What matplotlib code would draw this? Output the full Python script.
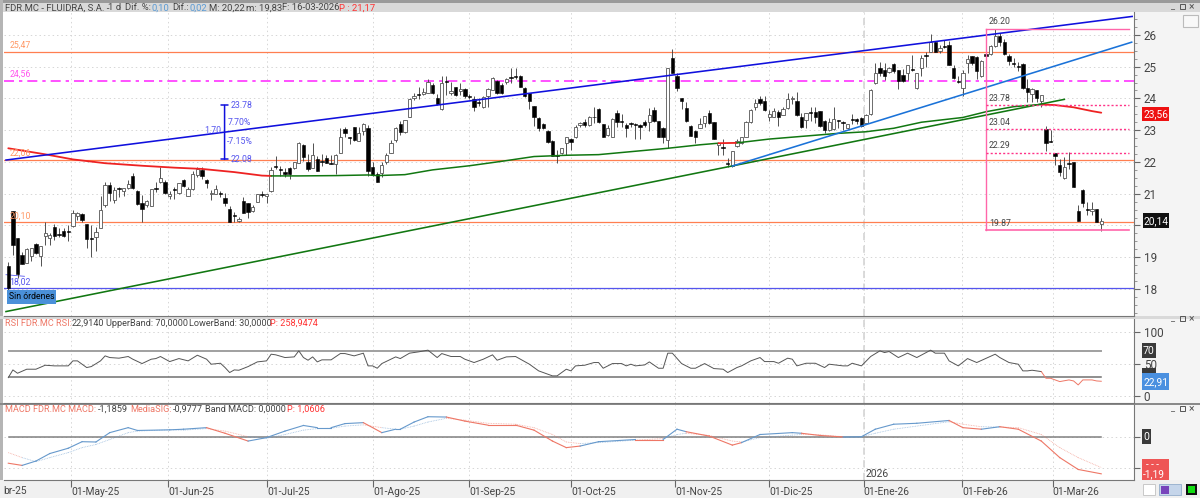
import numpy as np
from matplotlib import pyplot as plt
from matplotlib.patches import Rectangle

W, H = 1200, 498
plt.rcParams["font.family"] = ["Roboto", "DejaVu Sans"]

# candles
opens = [18.72, 20.46, 19.60, 19.07, 18.83, 19.05, 19.42, 19.05, 19.68, 19.59, 19.96, 19.74, 19.83, 19.83, 19.97, 20.31, 20.36, 20.04, 19.59, 19.65,
         19.91, 20.65, 21.28, 20.80, 21.17, 21.10, 21.17, 21.57, 21.09, 20.72, 20.65, 20.62, 21.17, 21.38, 21.38, 20.93, 21.14, 21.01, 21.43, 20.94,
         21.15, 21.59, 21.75, 21.43, 20.98, 20.98, 21.01, 20.88, 20.51, 20.32, 20.13, 20.77, 20.70, 20.46, 20.75, 20.99, 20.93, 21.07, 21.87, 21.78,
         21.67, 21.82, 21.80, 21.98, 22.54, 22.01, 21.80, 22.09, 22.04, 22.12, 21.96, 21.93, 22.29, 23.03, 22.77, 23.09, 22.67, 22.96, 23.08, 21.83,
         21.62, 21.64, 22.01, 22.29, 22.69, 23.20, 22.93, 23.43, 24.00, 24.13, 24.13, 24.16, 24.42, 24.00, 23.66, 24.55, 24.18, 24.37, 24.24, 24.29,
         24.08, 23.97, 23.89, 23.72, 24.06, 24.27, 24.55, 24.42, 24.53, 24.66, 24.69, 24.72, 24.32, 24.16, 23.76, 23.38, 23.19, 22.96, 22.67, 22.23,
         22.27, 22.59, 22.72, 22.77, 23.17, 23.27, 23.17, 23.43, 23.67, 23.19, 22.85, 22.80, 23.55, 23.29, 23.15, 23.21, 23.19, 23.17, 23.25, 23.27,
         23.64, 23.29, 23.06, 22.69, 25.27, 24.71, 24.00, 23.69, 23.14, 22.96, 23.06, 23.22, 23.55, 23.27, 22.52, 22.46, 21.98, 21.87, 22.50, 22.59,
         22.80, 23.25, 23.74, 23.98, 23.92, 23.40, 23.43, 23.58, 23.49, 23.69, 23.97, 23.91, 23.41, 23.32, 23.57, 23.58, 23.60, 23.30, 22.99, 23.03,
         23.31, 23.26, 23.07, 23.36, 23.34, 23.38, 23.24, 23.51, 24.48, 24.97, 24.88, 24.82, 25.07, 24.90, 24.74, 24.81, 24.92, 24.34, 24.97, 25.36,
         25.47, 25.78, 25.49, 25.65, 25.68, 24.95, 24.56, 24.32, 25.11, 25.32, 25.29, 24.69, 25.39, 25.39, 25.65, 25.97, 25.76, 25.35, 25.11, 25.03,
         25.09, 24.32, 24.13, 24.25, 23.92, 23.03, 22.67, 22.27, 21.91, 21.49, 21.96, 21.99, 20.47, 21.12, 20.51, 20.46, 20.51, 20.04]
highs = [18.86, 20.46, 19.60, 19.18, 19.28, 19.28, 19.44, 19.36, 20.12, 19.75, 20.04, 19.91, 19.91, 20.02, 20.49, 20.43, 20.38, 20.04, 20.02, 19.96,
         20.93, 21.38, 21.38, 21.22, 21.20, 21.17, 21.43, 21.66, 21.12, 20.96, 20.80, 21.16, 21.38, 21.83, 21.43, 21.10, 21.22, 21.33, 21.46, 21.22,
         21.70, 21.85, 21.83, 21.45, 21.12, 21.28, 21.10, 21.01, 20.61, 20.43, 20.28, 20.91, 20.70, 20.64, 20.98, 21.10, 20.98, 21.83, 22.19, 21.87,
         21.80, 21.85, 22.01, 22.64, 22.56, 22.24, 22.59, 22.19, 22.25, 22.22, 22.22, 22.24, 23.06, 23.11, 22.80, 23.11, 23.11, 23.22, 23.16, 22.01,
         21.67, 22.01, 22.29, 22.69, 23.11, 23.29, 23.32, 24.00, 24.18, 24.35, 24.32, 24.60, 24.50, 24.14, 24.69, 24.69, 24.53, 24.37, 24.50, 24.32,
         24.14, 24.06, 24.00, 24.08, 24.32, 24.66, 24.58, 24.48, 24.64, 24.95, 24.95, 24.74, 24.37, 24.18, 23.76, 23.40, 23.22, 23.01, 22.69, 22.36,
         22.45, 22.78, 22.75, 23.17, 23.27, 23.34, 23.45, 23.74, 23.69, 23.19, 23.17, 23.37, 23.62, 23.50, 23.22, 23.27, 23.24, 23.20, 23.32, 23.69,
         23.72, 23.29, 23.10, 24.97, 25.55, 24.79, 24.00, 23.90, 23.17, 23.01, 23.38, 23.45, 23.64, 23.27, 22.60, 22.72, 22.12, 22.35, 22.72, 22.80,
         23.29, 23.66, 23.97, 24.08, 24.08, 23.64, 23.71, 23.64, 23.74, 24.16, 24.06, 24.19, 23.53, 23.55, 23.74, 23.74, 23.60, 23.32, 23.38, 23.74,
         23.32, 23.28, 23.20, 23.51, 23.37, 23.41, 23.51, 24.30, 25.11, 25.14, 25.11, 25.00, 25.11, 24.90, 24.92, 25.05, 25.37, 24.79, 25.37, 25.47,
         26.02, 25.82, 25.68, 25.84, 25.82, 25.05, 24.71, 24.90, 25.37, 25.34, 25.32, 25.21, 25.42, 25.68, 26.20, 26.07, 25.86, 25.39, 25.26, 25.16,
         25.11, 24.60, 24.32, 24.27, 24.11, 23.13, 22.99, 22.29, 22.08, 22.15, 22.30, 22.01, 20.65, 21.14, 20.75, 20.73, 20.51, 20.22]
lows = [17.65, 19.07, 18.34, 18.79, 18.81, 18.89, 19.10, 18.72, 19.38, 19.38, 19.54, 19.65, 19.63, 19.52, 19.96, 20.17, 20.12, 19.28, 19.02, 19.20,
        19.91, 20.59, 20.78, 20.72, 20.91, 20.93, 21.14, 21.14, 20.65, 20.10, 20.57, 20.60, 21.06, 21.35, 20.99, 20.82, 20.82, 20.99, 21.22, 20.94,
        21.12, 21.54, 21.45, 21.17, 20.80, 20.98, 20.91, 20.62, 20.10, 20.12, 20.10, 20.38, 20.22, 20.43, 20.75, 20.91, 20.70, 21.06, 21.77, 21.56,
        21.54, 21.46, 21.77, 21.96, 22.03, 21.70, 21.80, 21.70, 21.87, 21.96, 21.93, 21.62, 22.27, 22.78, 22.57, 22.67, 22.66, 22.85, 21.56, 21.56,
        21.36, 21.54, 21.94, 22.27, 22.64, 22.85, 22.92, 23.41, 23.95, 23.97, 24.11, 24.16, 24.14, 23.80, 23.64, 24.11, 24.11, 24.09, 24.11, 24.00,
        23.97, 23.59, 23.76, 23.69, 23.72, 24.25, 24.14, 24.14, 24.45, 24.48, 24.60, 24.35, 24.04, 23.66, 23.13, 22.96, 23.04, 22.61, 22.19, 21.96,
        22.24, 22.22, 22.38, 22.75, 23.11, 23.11, 23.13, 23.24, 23.24, 22.78, 22.82, 22.78, 23.11, 23.11, 22.80, 23.11, 22.71, 22.71, 23.11, 22.96,
        23.27, 22.80, 22.59, 22.43, 24.79, 24.22, 23.66, 23.27, 22.82, 22.59, 23.06, 23.09, 23.20, 22.72, 22.22, 22.22, 21.85, 21.85, 22.48, 22.57,
        22.78, 23.22, 23.62, 23.80, 23.61, 23.29, 23.41, 23.14, 23.47, 23.66, 23.83, 23.45, 23.06, 23.06, 23.30, 23.24, 23.11, 22.90, 22.97, 23.00,
        23.06, 23.00, 23.05, 23.20, 23.20, 23.11, 23.22, 23.49, 24.46, 24.69, 24.58, 24.79, 24.79, 24.30, 24.53, 24.58, 24.85, 24.30, 24.69, 25.00,
        25.47, 25.45, 25.42, 25.58, 25.05, 24.60, 24.48, 24.08, 24.79, 25.05, 24.60, 24.67, 25.30, 25.37, 25.63, 25.65, 25.37, 25.05, 25.00, 24.85,
        24.30, 23.90, 23.90, 23.90, 23.72, 22.33, 22.64, 21.91, 21.57, 21.47, 21.77, 21.20, 20.15, 20.57, 20.33, 20.33, 20.10, 19.83]
closes = [18.02, 19.39, 18.46, 18.79, 19.26, 19.28, 19.12, 19.36, 19.75, 19.69, 19.67, 19.70, 19.67, 19.79, 20.38, 20.40, 20.17, 19.56, 19.56, 19.81,
          20.49, 21.28, 21.01, 21.12, 21.14, 21.17, 21.31, 21.17, 20.68, 20.52, 20.77, 21.14, 21.14, 21.49, 21.01, 20.99, 21.11, 21.33, 21.24, 21.14,
          21.62, 21.77, 21.57, 21.35, 21.03, 21.14, 20.98, 20.70, 20.12, 20.29, 20.20, 20.40, 20.43, 20.59, 20.98, 20.96, 20.98, 21.75, 21.83, 21.75,
          21.63, 21.62, 22.01, 22.61, 22.14, 21.77, 22.23, 21.73, 22.01, 21.98, 21.93, 22.22, 22.77, 22.90, 22.74, 22.69, 22.92, 23.19, 21.70, 21.59,
          21.38, 21.91, 22.22, 22.61, 23.08, 22.93, 23.32, 23.97, 24.06, 24.10, 24.19, 24.53, 24.16, 23.82, 24.50, 24.52, 24.24, 24.11, 24.30, 24.06,
          24.04, 23.72, 23.85, 24.04, 24.29, 24.63, 24.16, 24.16, 24.61, 24.63, 24.66, 24.37, 24.08, 23.92, 23.43, 23.06, 23.06, 22.64, 22.20, 22.20,
          22.45, 22.78, 22.64, 23.09, 23.24, 23.15, 23.41, 23.40, 23.27, 22.80, 23.06, 23.35, 23.27, 23.26, 23.08, 23.18, 23.15, 23.11, 23.15, 23.48,
          23.29, 22.80, 22.80, 24.97, 24.81, 24.34, 23.91, 23.29, 22.83, 22.77, 23.20, 23.45, 23.22, 22.72, 22.60, 22.43, 21.95, 22.35, 22.66, 22.78,
          23.27, 23.62, 23.85, 23.85, 23.62, 23.50, 23.61, 23.41, 23.67, 23.97, 24.02, 23.47, 23.11, 23.53, 23.53, 23.43, 23.14, 22.99, 23.27, 23.35,
          23.28, 23.22, 23.18, 23.33, 23.30, 23.14, 23.49, 24.27, 24.81, 24.81, 24.72, 24.97, 24.85, 24.56, 24.56, 25.05, 24.89, 24.79, 25.26, 25.33,
          25.76, 25.47, 25.58, 25.62, 25.05, 24.63, 24.53, 24.79, 25.23, 25.13, 24.87, 25.19, 25.32, 25.65, 25.97, 25.79, 25.39, 25.19, 25.08, 25.00,
          24.32, 24.21, 24.29, 24.00, 24.10, 22.61, 22.64, 22.20, 21.67, 21.83, 21.93, 21.22, 20.15, 20.70, 20.48, 20.51, 20.12, 20.14]

ma_idx = [0, 8, 14, 21, 29, 36, 42, 49, 55, 57, 63, 71, 78, 80, 86, 92, 100, 107, 114, 121, 128, 143, 150, 154, 158, 165, 180, 186, 192, 198, 207, 212, 218, 224, 227, 231, 235, 237]
ma_val = [22.43, 22.24, 22.08, 21.96, 21.88, 21.82, 21.78, 21.68, 21.57, 21.56, 21.56, 21.57, 21.59, 21.57, 21.60, 21.75, 21.88, 22.02, 22.17, 22.21, 22.23, 22.43, 22.54, 22.59, 22.60, 22.72, 22.90, 22.95, 23.06, 23.25, 23.40, 23.58, 23.74, 23.81, 23.79, 23.72, 23.60, 23.55]

rsi_idx = [0, 1, 2, 4, 6, 8, 10, 13, 14, 15, 17, 18, 20, 21, 22, 24, 26, 27, 29, 31, 32, 33, 35, 37, 39, 41, 43, 44, 46, 47, 48, 49, 50, 52, 54, 56, 57, 58, 60, 62, 63, 64, 65, 66, 67, 68, 70, 72, 73, 75, 77, 78, 79, 80, 81, 84,
           85, 87, 89, 91, 93, 94, 96, 98, 99, 101, 103, 105, 106, 108, 110, 113, 115, 116, 118, 119, 121, 122, 123, 125, 127, 128, 129, 131, 133, 134, 135, 136, 138, 139, 141, 142, 143, 144, 146, 148, 149, 151, 153, 155, 156, 158, 159, 161, 163, 164, 166, 167, 169, 170, 171,
           173, 175, 177, 178, 181, 182, 183, 185, 187, 189, 190, 191, 193, 195, 197, 200, 201, 203, 204, 206, 208, 210, 214, 215, 217, 219, 220, 221, 222, 224, 225, 226, 228, 230, 231, 232, 233, 235, 236, 237]
rsi_val = [28.6, 40.6, 35.4, 41.7, 41.7, 47.9, 46.9, 46.9, 54.7, 54.7, 44.3, 45.8, 54.7, 62.5, 59.9, 58.9, 61.5, 57.3, 50.5, 57.3, 58.3, 61.5, 53.6, 58.3, 54.7, 63.5, 57.3, 49.5, 51.0, 44.3, 36.5, 40.6, 40.1, 45.8, 53.1, 54.7, 65.1, 64.1, 59.9, 60.9, 70.3, 59.9, 55.7, 60.9, 53.1, 56.3, 56.3, 66.1, 66.1, 62.5, 66.7, 46.9, 46.9, 43.2, 50.5, 60.9,
           58.3, 66.7, 68.8, 71.4, 59.9, 66.1, 61.5, 61.5, 57.3, 52.1, 57.3, 64.1, 55.7, 60.9, 61.5, 49.5, 39.1, 36.5, 31.3, 31.3, 41.7, 39.1, 46.9, 47.9, 52.1, 52.1, 43.2, 50.5, 50.5, 46.9, 49.5, 46.9, 48.4, 53.1, 43.2, 43.2, 66.7, 66.7, 50.5, 43.2, 43.2, 50.5, 42.7, 41.7, 36.5, 44.3, 46.9, 54.7, 59.9, 53.6, 53.6, 51.0, 58.9, 57.3, 46.9,
           51.0, 51.0, 44.3, 49.5, 46.9, 46.9, 51.0, 46.9, 61.5, 70.3, 67.7, 69.3, 59.9, 66.7, 59.9, 71.4, 66.7, 66.7, 54.7, 46.9, 58.3, 52.1, 65.1, 59.9, 52.1, 49.5, 39.1, 39.1, 40.1, 38.0, 27.6, 27.6, 22.4, 25.0, 23.4, 17.2, 25.0, 25.0, 23.4, 22.9]

macd_idx = [0, 3, 6, 9, 13, 16, 19, 22, 26, 28, 35, 38, 43, 47, 52, 56, 60, 64, 67, 70, 73, 77, 81, 84,
            85, 88, 91, 95, 99, 104, 110, 114, 118, 121, 124, 128, 136, 142, 145, 147, 152, 157, 159, 163, 170,
            172, 176, 181, 185, 188, 192, 197, 204, 207, 211, 215, 219, 224, 228, 232, 237]
macd_val = [-0.85, -0.92, -0.78, -0.54, -0.37, -0.16, -0.17, 0.13, 0.29, 0.20, 0.22, 0.24, 0.29, 0.11, -0.14, -0.03, 0.18, 0.36, 0.29, 0.29, 0.42, 0.45, 0.13, 0.24,
            0.24, 0.47, 0.64, 0.63, 0.50, 0.37, 0.37, 0.21, -0.14, -0.35, -0.30, -0.16, -0.09, -0.09, 0.24, 0.16, 0.02, -0.27, -0.19, 0.07, 0.13,
            0.11, 0.04, -0.01, 0.00, 0.24, 0.40, 0.43, 0.52, 0.29, 0.24, 0.32, 0.24, -0.14, -0.67, -1.05, -1.19]
signal_val = [-0.51, -0.67, -0.80, -0.67, -0.51, -0.35, -0.25, -0.09, 0.13, 0.18, 0.22, 0.21, 0.26, 0.18, 0.00, -0.05, 0.07, 0.21, 0.26, 0.27, 0.34, 0.38, 0.29, 0.24,
              0.24, 0.34, 0.47, 0.59, 0.53, 0.43, 0.40, 0.29, 0.07, -0.17, -0.22, -0.19, -0.11, -0.06, 0.07, 0.11, 0.04, -0.14, -0.17, -0.03, 0.05,
              0.07, 0.06, 0.00, 0.00, 0.11, 0.24, 0.34, 0.48, 0.40, 0.32, 0.31, 0.29, 0.07, -0.35, -0.67, -0.99]

tick_pos = [13.65, 34.7, 56.1, 79.1, 100, 122, 144.6, 165, 185.5, 206.8, 226.5]
tick_labels = ["01-May-25", "01-Jun-25", "01-Jul-25", "01-Ago-25", "01-Sep-25", "01-Oct-25",
               "01-Nov-25", "01-Dic-25", "01-Ene-26", "01-Feb-26", "01-Mar-26"]

price_ticks = [18, 19, 20, 21, 22, 23, 24, 25, 26]
price_tick_labels = ["18", "19", "", "21", "22", "23", "24", "25", "26"]

levels = [25.47, 22.06, 20.10]
fibo = [23.78, 23.04, 22.29]

ORANGE = "#ff7f50"
BLUE = "#1010dd"
SALMON = "#ee7766"
SKY = "#6699cc"
LABEL = "#ff9966"
TXT = "#444444"
GREEN = "#117711"
RED = "#ee2222"


def box(x0, y0, x1, y1, color, z=-1, **kw):
    fig.add_artist(Rectangle((x0 / W, 1 - y1 / H), (x1 - x0) / W, (y1 - y0) / H,
                             facecolor=color, edgecolor=kw.pop("edge", "none"),
                             linewidth=kw.pop("lw", 0), transform=fig.transFigure, zorder=z))


def label(x, y, s, color=TXT, size=6.8, **kw):
    fig.text(x / W, 1 - y / H, s, color=color, fontsize=size, va="center", **kw)


def pane(y0, y1):
    ax = fig.add_axes([4 / W, 1 - y1 / H, 1130 / W, (y1 - y0) / H])
    ax.set_xlim(-0.93, 244.1)
    ax.spines["top"].set_visible(False)
    ax.spines["left"].set_visible(False)
    ax.spines["right"].set_color("#777777")
    ax.spines["bottom"].set_color("#777777")
    ax.yaxis.tick_right()
    ax.set_xticks(tick_pos)
    ax.set_xticklabels([])
    ax.tick_params(axis="x", length=0)
    ax.tick_params(axis="y", colors="#666666", labelsize=8.4, length=4, pad=3, labelcolor=TXT)
    ax.grid(True, color="#d6d6d6", linestyle=(0, (1.5, 3)), linewidth=0.7)
    ax.set_axisbelow(True)
    # the new year gets a heavier line
    ax.axvline(tick_pos[8], color="#d8d8d8", linestyle=(0, (4, 3)), linewidth=1.3, zorder=0)
    return ax


fig = plt.figure(figsize=(W / 100, H / 100), dpi=100, facecolor="white")

# window chrome
box(0, 0, W, 3, "#9a9a9a")
box(0, 3, W, 12, "#d9d9d9")
box(0, 0, 3, H, "#b5b5b5")
box(1134, 12, W, 480, "#f4f4f4")
box(0, 480, W, H, "#f0f0f0")
box(0, 316, W, 319, "#d9d9d9")
box(0, 403, W, 405, "#8a8a8a")

# price pane
ax = pane(12, 316)
ax.set_ylim(17.15, 26.72)
ax.set_yticks(price_ticks)
ax.set_yticklabels(price_tick_labels)
ax.set_yticks(np.arange(17.25, 26.75, 0.25), minor=True)
ax.tick_params(axis="y", which="minor", colors="#888888", length=2)

for y in levels:
    ax.axhline(y, color=ORANGE, linewidth=0.9, zorder=2)
ax.axhline(24.56, color="#ff33ff", linewidth=1.2, linestyle=(0, (6, 3, 2, 3)), zorder=2)
ax.axhline(18.02, color="#5555ee", linewidth=0.9, zorder=2)
ax.plot([-0.5, 3.5], [18.45, 18.40], color="#5555ee", linewidth=0.6, zorder=2)

idx = np.arange(len(closes))
o = np.array(opens)
c = np.array(closes)
up = c >= o
ax.vlines(idx, lows, highs, color="#444444", linewidth=0.65, zorder=3)
ax.bar(idx[up], (c - o)[up], bottom=o[up], width=0.72, facecolor="white", edgecolor="#555555", linewidth=0.6, zorder=4)
ax.bar(idx[~up], (c - o)[~up], bottom=o[~up], width=0.72, facecolor="black", edgecolor="black", linewidth=0.4, zorder=4)

# 200 session average, red below price and green above
ma_x = np.array(ma_idx)
ma_y = np.array(ma_val)
for a, b, col in [(0, 57, RED), (57, 154, GREEN), (154, 158, RED), (158, 224, GREEN), (224, 237, RED)]:
    m = (ma_x >= a) & (ma_x <= b)
    ax.plot(ma_x[m], ma_y[m], color=col, linewidth=1.1 if col == GREEN else 1.3, zorder=5,
            solid_capstyle="round")

# trend lines
ax.plot([-0.5, 243.7], [22.06, 26.58], color=BLUE, linewidth=1.15, zorder=5)
ax.plot([-0.5, 229], [17.29, 23.97], color=GREEN, linewidth=1.15, zorder=5)
ax.plot([157, 243.6], [21.87, 25.77], color="#1a72d8", linewidth=1.15, zorder=5)

# fibonacci box
ax.plot([212, 212], [19.87, 26.20], color="#ff66aa", linewidth=1, zorder=5)
ax.plot([212, 243], [26.20, 26.20], color="#ff66aa", linewidth=1, zorder=5)
ax.plot([212, 243], [19.87, 19.87], color="#ff66aa", linewidth=1.2, zorder=5)
for y in fibo:
    ax.plot([212, 243], [y, y], color="#ff3388", linewidth=1, linestyle=(0, (1.5, 1.5)), zorder=5)
for y, s in zip([26.20, 23.78, 23.04, 22.29], ["26.20", "23.78", "23.04", "22.29"]):
    ax.text(212.6, y + 0.07, s, color=TXT, fontsize=6.3, va="bottom", zorder=6)
ax.text(212.6, 19.93, "19.87", color=TXT, fontsize=6.3, va="bottom", zorder=6)

# measured move
ax.annotate("", xy=(46.9, 23.78), xytext=(46.9, 22.08), zorder=6,
            arrowprops=dict(arrowstyle="|-|,widthA=0.25,widthB=0.25", color=BLUE, linewidth=1.1, shrinkA=0, shrinkB=0))
ax.text(48.2, 23.78, "23.78", color="#5555ee", fontsize=6.3, va="center", zorder=6)
ax.text(48.2, 22.08, "22.08", color="#5555ee", fontsize=6.3, va="center", zorder=6)
ax.text(47.5, 23.23, "7.70%", color="#5555ee", fontsize=6.3, va="center", zorder=6)
ax.text(47.5, 22.65, "-7.15%", color="#5555ee", fontsize=6.3, va="center", zorder=6)
ax.text(42.5, 22.99, "1.70", color="#5555ee", fontsize=6.3, va="center", zorder=6)

# level tags
for y, s, col in [(25.47, "25,47", LABEL), (24.56, "24,56", "#ff55ee"), (22.06, "22,06", LABEL),
                  (20.10, "20,10", LABEL), (18.02, "18,02", "#5555ee")]:
    ax.text(0.3, y + 0.06, s, color=col, fontsize=6.3, va="bottom", zorder=6)
ax.text(0.1, 17.75, "Sin órdenes", color="black", fontsize=6.2, va="center", zorder=7,
        bbox=dict(facecolor="#4a90d9", edgecolor="none", pad=1.5))

# rsi pane
ax2 = pane(319, 403)
ax2.set_ylim(-11, 120)
ax2.set_yticks([0, 50, 100])
ax2.axhline(70, xmin=0.004, xmax=0.971, color="#a0a0a0", linewidth=1.4, zorder=2)
ax2.axhline(30, xmin=0.004, xmax=0.971, color="#707070", linewidth=1.1, zorder=2)
rsi_x = np.array(rsi_idx)
rsi_y = np.array(rsi_val)
ax2.plot(rsi_x[rsi_x <= 224], rsi_y[rsi_x <= 224], color="#555555", linewidth=0.7, zorder=3)
ax2.plot(rsi_x[rsi_x >= 224], rsi_y[rsi_x >= 224], color=SALMON, linewidth=0.7, zorder=3)

# macd pane
ax3 = pane(405, 480)
ax3.set_ylim(-1.388, 1.016)
ax3.set_yticks([-1, 0])
ax3.set_yticklabels([])
ax3.axhline(0, xmin=0.004, xmax=0.971, color="#808080", linewidth=1.1, zorder=2)
for i in range(len(macd_idx) - 1):
    col = SKY if macd_val[i + 1] >= signal_val[i + 1] else SALMON
    xs = macd_idx[i:i + 2]
    ax3.plot(xs, macd_val[i:i + 2], color=col, linewidth=0.8, zorder=4)
    ax3.plot(xs, signal_val[i:i + 2], color=col, linewidth=0.6, alpha=0.6, linestyle=(0, (1, 1)), zorder=3)
ax3.text(tick_pos[8] + 0.3, -1.18, "2026", color=TXT, fontsize=7.5, va="center", zorder=5)
ax3.tick_params(axis="x", length=5, color="#666666", labelsize=7.4, labelcolor=TXT, pad=0)
ax3.set_xticklabels(tick_labels, ha="left")
label(3, 491, "br-25", size=7.4)

# header strip
label(5, 8, "FDR.MC - FLUIDRA, S.A. -")
label(108, 8, "1 d")
label(125, 8, "Dif. %:")
label(152, 8, "0,10", color="#5b9bd5")
label(172, 8, "Dif.:")
label(189, 8, "0,02", color="#5b9bd5")
label(209, 8, "M: 20,22")
label(246, 8, "m: 19,83")
label(282, 8, "F: 16-03-2026")
label(339, 8, "P : 21,17", color="#ff3333")

label(5, 323, "RSI FDR.MC RSI:", color=SALMON, size=6.6)
label(72, 323, "22,9140", size=6.6)
label(106, 323, "UpperBand: 70,0000", size=6.6)
label(189, 323, "LowerBand: 30,0000", size=6.6)
label(270, 323, "P: 258,9474", color="#ff3333", size=6.6)

label(5, 409, "MACD FDR.MC MACD:", color=SALMON, size=6.6)
label(98, 409, "-1,1859", size=6.6)
label(130, 409, "MediaSIG:", color=SALMON, size=6.6)
label(173, 409, "-0,9777", size=6.6)
label(205, 409, "Band MACD: 0,0000", size=6.6)
label(287, 409, "P: 1,0606", color="#ff3333", size=6.6)

# value badges on the right
box(1142, 107, 1169, 121, "#ee1111", z=3)
label(1143, 114, "23,56", color="white", size=7.3, zorder=4)
box(1143, 213, 1169, 228, "#111111", z=3)
label(1144, 221, "20,14", color="white", size=7.3, zorder=4)
box(1142, 343, 1156, 358, "#3a3a3a", z=3)
label(1143, 351, "70", color="white", size=7.6, zorder=4)
box(1142, 368, 1156, 374, "#3a3a3a", z=3)
box(1142, 373, 1169, 390, "#4a90e0", z=3)
label(1143, 382, "22,91", color="white", size=7.3, zorder=4)
box(1142, 429, 1151, 444, "#3a3a3a", z=3)
label(1143, 437, "0", color="white", size=7.6, zorder=4)
box(1142, 459, 1169, 480, "#ee5555", z=3)
label(1146, 465, "- - -", color="white", size=7, zorder=4)
label(1143, 474, "-1,19", color="white", size=7.3, zorder=4)

# window buttons
for y in [7, 319, 409]:
    label(1171, y, "_", size=6.5, color="#555555")
    box(1180, y - 3, 1185, y + 2, "none", z=3, edge="#555555", lw=0.7)
    label(1189, y, "×", size=7.5, color="#555555")
box(1183, 15, 1198, 27, "#f8f8f8", z=3, edge="#bbbbbb", lw=0.8)
box(1143, 484, 1155, 495, "#ffffff", z=3, edge="#c8c8c8", lw=0.7)
box(1159, 484, 1181, 495, "#c5d5ea", z=3, edge="#9db4d0", lw=0.7)
box(1161, 486, 1169, 494, "#7744bb", z=3)
box(1186, 484, 1197, 495, "#111111", z=3)
box(1188, 486, 1195, 493, "#11dd11", z=4)

fig.savefig("out.png", dpi=100)
